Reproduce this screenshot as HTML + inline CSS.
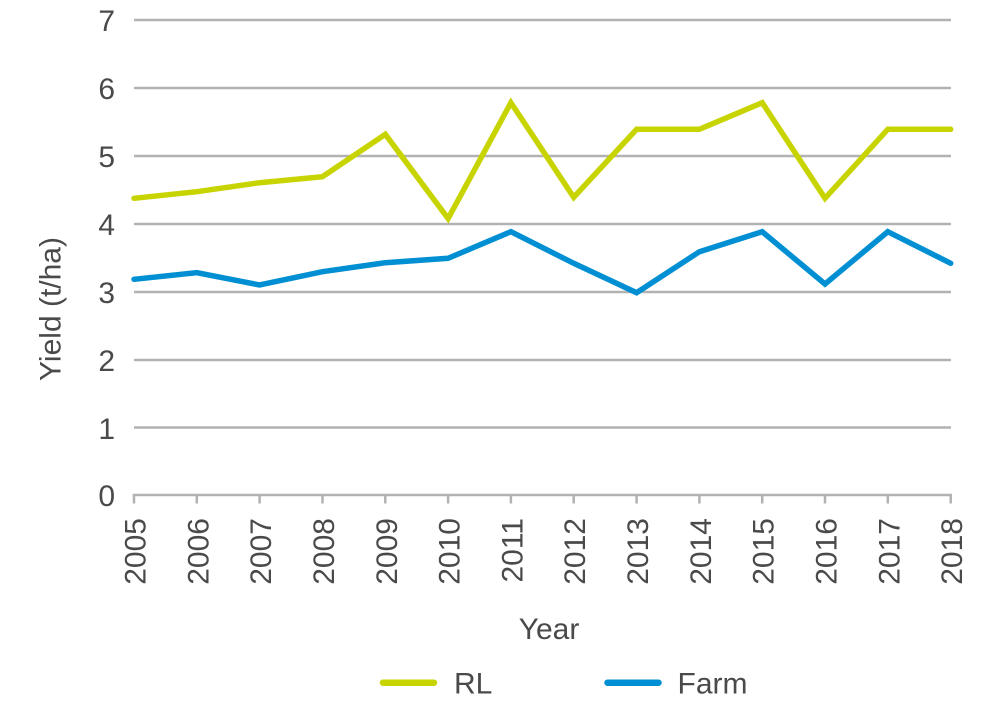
<!DOCTYPE html>
<html>
<head>
<meta charset="utf-8">
<style>
  html, body { margin: 0; padding: 0; background: #ffffff; }
  svg { display: block; }
  text { font-family: "Liberation Sans", Arial, sans-serif; fill: #4a4a4a; }
</style>
</head>
<body>
<svg width="1000" height="705" viewBox="0 0 1000 705" xmlns="http://www.w3.org/2000/svg">
  <!-- gridlines -->
  <g stroke="#b2b2b2" stroke-width="2.5" fill="none">
    <line x1="134" y1="20" x2="951" y2="20"/>
    <line x1="134" y1="88" x2="951" y2="88"/>
    <line x1="134" y1="156" x2="951" y2="156"/>
    <line x1="134" y1="224" x2="951" y2="224"/>
    <line x1="134" y1="292" x2="951" y2="292"/>
    <line x1="134" y1="360" x2="951" y2="360"/>
    <line x1="134" y1="427.5" x2="951" y2="427.5"/>
    <!-- x axis -->
    <line x1="132.7" y1="495" x2="952" y2="495"/>
    <!-- ticks -->
    <line x1="134" y1="495" x2="134" y2="503.5"/>
    <line x1="196.8" y1="495" x2="196.8" y2="503.5"/>
    <line x1="259.6" y1="495" x2="259.6" y2="503.5"/>
    <line x1="322.5" y1="495" x2="322.5" y2="503.5"/>
    <line x1="385.3" y1="495" x2="385.3" y2="503.5"/>
    <line x1="448.1" y1="495" x2="448.1" y2="503.5"/>
    <line x1="510.9" y1="495" x2="510.9" y2="503.5"/>
    <line x1="573.7" y1="495" x2="573.7" y2="503.5"/>
    <line x1="636.6" y1="495" x2="636.6" y2="503.5"/>
    <line x1="699.4" y1="495" x2="699.4" y2="503.5"/>
    <line x1="762.2" y1="495" x2="762.2" y2="503.5"/>
    <line x1="825" y1="495" x2="825" y2="503.5"/>
    <line x1="887.8" y1="495" x2="887.8" y2="503.5"/>
    <line x1="950.7" y1="495" x2="950.7" y2="503.5"/>
  </g>

  <!-- y tick labels -->
  <g font-size="30" text-anchor="end">
    <text x="115" y="31">7</text>
    <text x="115" y="99">6</text>
    <text x="115" y="167">5</text>
    <text x="115" y="235">4</text>
    <text x="115" y="303">3</text>
    <text x="115" y="371">2</text>
    <text x="115" y="439">1</text>
    <text x="115" y="506">0</text>
  </g>

  <!-- x tick labels (rotated) -->
  <g font-size="30" text-anchor="end">
    <text transform="translate(145.5,518) rotate(-90)">2005</text>
    <text transform="translate(208.3,518) rotate(-90)">2006</text>
    <text transform="translate(271.1,518) rotate(-90)">2007</text>
    <text transform="translate(334,518) rotate(-90)">2008</text>
    <text transform="translate(396.8,518) rotate(-90)">2009</text>
    <text transform="translate(459.6,518) rotate(-90)">2010</text>
    <text transform="translate(522.4,518) rotate(-90)">2011</text>
    <text transform="translate(585.2,518) rotate(-90)">2012</text>
    <text transform="translate(648.1,518) rotate(-90)">2013</text>
    <text transform="translate(710.9,518) rotate(-90)">2014</text>
    <text transform="translate(773.7,518) rotate(-90)">2015</text>
    <text transform="translate(836.5,518) rotate(-90)">2016</text>
    <text transform="translate(899.3,518) rotate(-90)">2017</text>
    <text transform="translate(962.2,518) rotate(-90)">2018</text>
  </g>

  <!-- axis titles -->
  <text font-size="30" text-anchor="middle" transform="translate(60.5,309) rotate(-90)">Yield (t/ha)</text>
  <text font-size="30" text-anchor="middle" x="549" y="639">Year</text>

  <!-- series -->
  <polyline fill="none" stroke="#c8d400" stroke-width="5.5" stroke-linejoin="miter" stroke-linecap="round"
    points="134,198.3 196.8,191.7 259.6,182.7 322.5,176.7 385.3,134.3 448.1,218.5 510.9,102.7 573.7,197.3 636.6,129.3 699.4,129.3 762.2,102.7 825,198.3 887.8,129.3 950.7,129.3"/>
  <polyline fill="none" stroke="#008fd2" stroke-width="5.5" stroke-linejoin="miter" stroke-linecap="round"
    points="134,279.3 196.8,272.7 259.6,285 322.5,271.7 385.3,262.7 448.1,258.3 510.9,231.7 573.7,263.3 636.6,292.7 699.4,251.7 762.2,231.7 825,284 887.8,231.7 950.7,263.3"/>

  <!-- legend -->
  <line x1="383" y1="682.7" x2="434" y2="682.7" stroke="#c8d400" stroke-width="6.5" stroke-linecap="round"/>
  <text font-size="30" x="454" y="693.5">RL</text>
  <line x1="607.5" y1="682.7" x2="658.5" y2="682.7" stroke="#008fd2" stroke-width="6.5" stroke-linecap="round"/>
  <text font-size="30" x="677.5" y="693.5">Farm</text>
</svg>
</body>
</html>
